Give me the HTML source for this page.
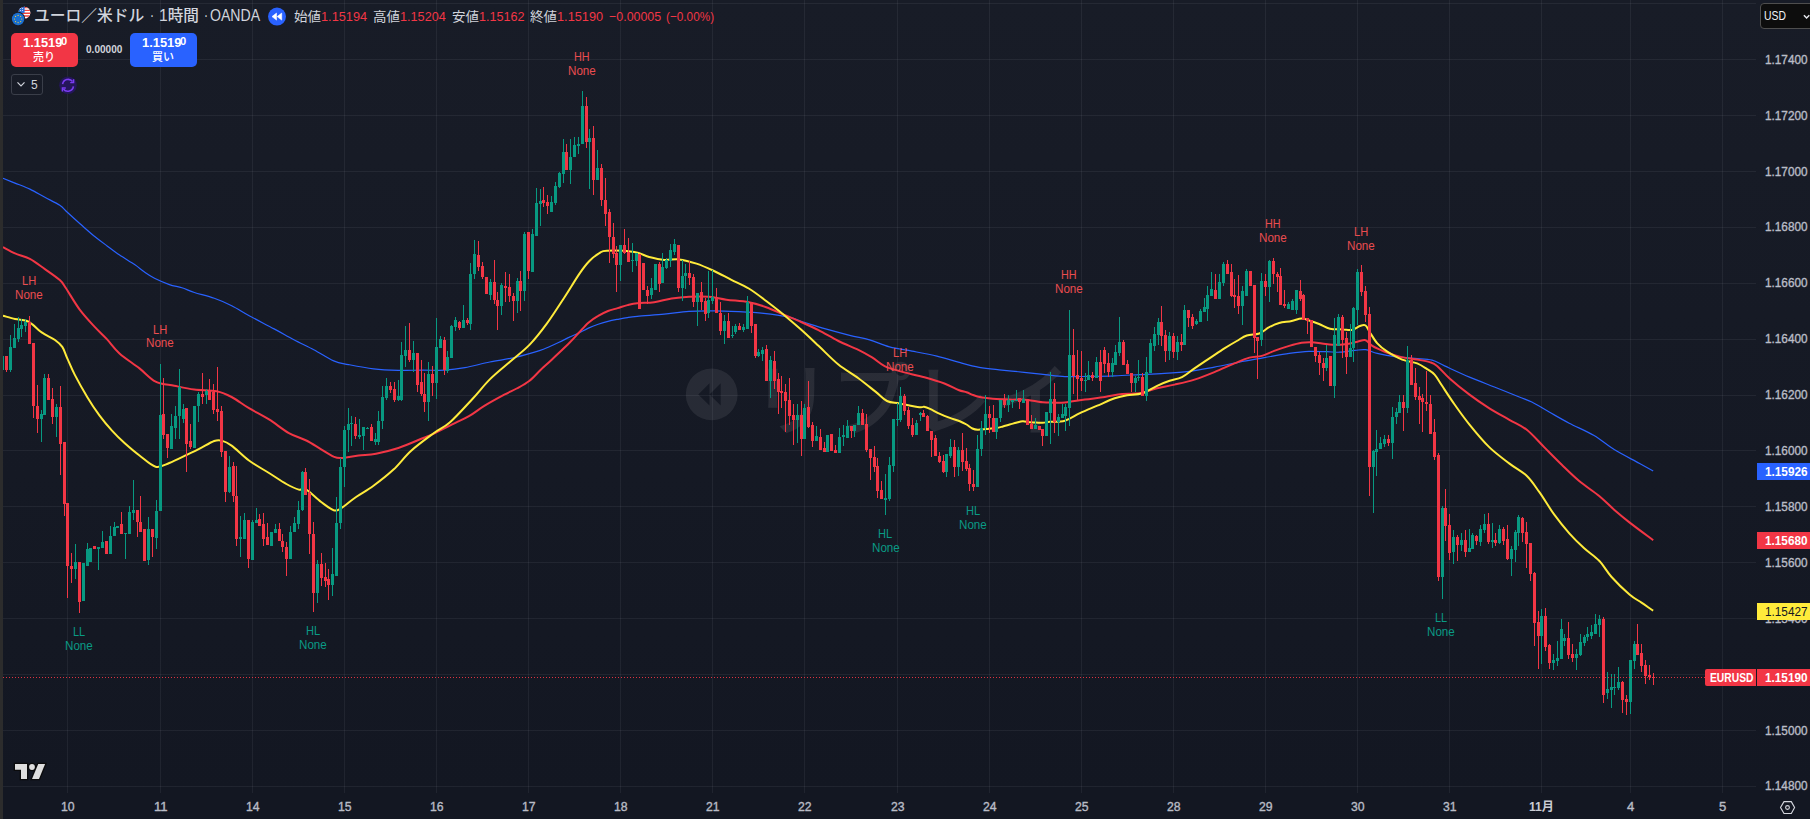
<!DOCTYPE html>
<html lang="ja"><head><meta charset="utf-8"><title>EURUSD</title>
<style>
html,body{margin:0;padding:0;background:#131722;}
body{width:1810px;height:819px;position:relative;overflow:hidden;background:linear-gradient(180deg,#181c27 0px,#131722 793px,#131722 819px);font-family:"Liberation Sans","Noto Sans CJK JP",sans-serif;color:#d1d4dc;}
.t{position:absolute;white-space:nowrap;line-height:1;}
.x{position:absolute;white-space:nowrap;transform-origin:0 50%;display:block}
.tag{position:absolute;left:1757px;width:53px;height:17px;}
.wm{position:absolute;left:751.5px;top:351.7px;font-size:80px;letter-spacing:0px;color:rgba(255,255,255,0.085);font-weight:500;line-height:100px;white-space:nowrap;font-family:"Liberation Sans","Noto Sans CJK JP",sans-serif;}
</style></head><body>

<div class="wm">リプレイ</div>
<svg width="1810" height="819" viewBox="0 0 1810 819" style="position:absolute;left:0;top:0">
<path d="M67.5 0V793M160.5 0V793M252.5 0V793M344.5 0V793M436.5 0V793M528.5 0V793M620.5 0V793M712.5 0V793M804.5 0V793M897.5 0V793M989.5 0V793M1081.5 0V793M1173.5 0V793M1265.5 0V793M1357.5 0V793M1449.5 0V793M1541.5 0V793M1630.5 0V793M1722.5 0V793" stroke="rgba(240,243,250,0.062)" stroke-width="1" fill="none" shape-rendering="crispEdges"/>
<path d="M3 3.5H1756M3 59.5H1756M3 115.5H1756M3 171.5H1756M3 227.5H1756M3 283.5H1756M3 339.5H1756M3 395.5H1756M3 450.5H1756M3 506.5H1756M3 562.5H1756M3 618.5H1756M3 674.5H1756M3 730.5H1756M3 786.5H1756" stroke="rgba(240,243,250,0.062)" stroke-width="1" fill="none" shape-rendering="crispEdges"/>
<path fill-rule="evenodd" fill="rgba(255,255,255,0.08)" d="M685.8 394.4a25.9 25.9 0 1 0 51.8 0a25.9 25.9 0 1 0 -51.8 0Z M709.5 383.2L698.3 394.4L709.5 405.6Z M720.7 383.2L709.5 394.4L720.7 405.6Z"/>
<path d="M3.0 178.2C5.0 179.0 10.5 181.3 15.0 183.1C19.5 184.9 24.9 186.7 29.9 189.1C34.9 191.5 39.9 194.6 44.9 197.3C49.9 200.0 56.1 202.8 59.8 205.3C63.5 207.8 64.0 209.3 67.3 212.3C70.6 215.3 75.1 219.5 79.7 223.5C84.3 227.5 90.1 232.8 94.7 236.5C99.3 240.2 102.9 242.8 107.1 245.9C111.2 249.0 115.0 252.0 119.6 255.1C124.2 258.2 130.4 261.8 134.6 264.6C138.8 267.4 141.2 269.8 144.5 272.1C147.8 274.4 150.3 276.2 154.5 278.3C158.7 280.4 164.8 283.0 169.4 284.6C174.0 286.2 177.7 286.5 181.9 287.8C186.1 289.1 189.0 290.8 194.4 292.5C199.8 294.2 208.1 296.1 214.3 298.3C220.5 300.5 225.9 302.8 231.7 305.7C237.5 308.6 242.1 311.8 249.2 315.7C256.3 319.6 266.7 324.9 274.1 328.9C281.6 332.9 287.3 336.2 293.9 339.7C300.5 343.2 307.2 346.2 313.8 349.7C320.4 353.2 327.9 358.4 333.7 360.9C339.5 363.4 342.0 363.3 348.6 364.6C355.2 365.9 365.2 367.9 373.5 368.9C381.8 369.9 390.1 370.2 398.4 370.4C406.7 370.6 415.5 370.1 423.3 370.1C431.1 370.1 438.1 370.6 445.0 370.2C451.9 369.8 457.4 369.1 464.9 367.7C472.4 366.3 481.5 363.7 489.8 362.0C498.1 360.3 506.4 359.4 514.7 357.5C523.0 355.6 533.7 352.4 539.5 350.6C545.3 348.8 546.0 348.1 549.3 346.7C552.6 345.3 555.8 343.9 559.1 342.3C562.4 340.8 565.6 338.9 568.9 337.4C572.1 335.8 575.4 334.6 578.6 333.0C581.9 331.4 585.1 329.6 588.4 328.1C591.7 326.6 594.9 325.3 598.2 324.2C601.5 323.1 604.8 322.1 608.0 321.3C611.2 320.5 614.5 319.9 617.7 319.3C621.0 318.7 624.2 318.1 627.5 317.6C630.8 317.1 631.2 317.0 637.3 316.4C643.4 315.8 655.5 315.0 664.1 314.2C672.7 313.4 680.7 311.9 689.0 311.4C697.3 310.8 705.7 310.8 714.0 310.9C722.3 310.9 730.5 311.3 738.8 311.7C747.1 312.1 755.4 312.5 763.7 313.4C772.0 314.3 781.7 315.7 788.6 317.2C795.5 318.7 799.0 320.6 805.0 322.5C811.0 324.4 817.2 326.6 824.7 328.7C832.2 330.8 842.2 333.5 849.7 335.4C857.2 337.3 863.0 338.0 869.6 339.9C876.2 341.8 882.4 345.0 889.5 346.9C896.6 348.8 904.1 349.6 912.0 351.1C919.9 352.6 929.0 354.2 936.9 356.1C944.8 358.0 952.2 360.5 959.3 362.4C966.3 364.3 972.6 366.1 979.2 367.3C985.9 368.5 991.7 369.0 999.2 369.8C1006.7 370.6 1016.5 371.5 1024.1 372.3C1031.7 373.1 1038.2 373.9 1045.0 374.6C1051.8 375.3 1057.4 376.3 1064.9 376.6C1072.4 376.9 1081.5 376.4 1089.8 376.3C1098.1 376.2 1106.4 376.1 1114.7 375.8C1123.0 375.5 1131.4 375.0 1139.7 374.6C1148.0 374.2 1156.3 373.9 1164.6 373.3C1172.9 372.8 1181.2 372.3 1189.5 371.3C1197.8 370.3 1206.1 368.6 1214.4 367.1C1222.7 365.6 1231.0 363.7 1239.3 362.1C1247.6 360.5 1256.0 359.1 1264.3 357.6C1272.6 356.2 1281.7 354.4 1289.2 353.4C1296.7 352.4 1302.9 351.7 1309.1 351.4C1315.3 351.1 1321.4 351.6 1326.5 351.7C1331.6 351.8 1335.2 352.4 1339.9 352.2C1344.6 352.0 1350.6 350.8 1354.9 350.4C1359.2 350.0 1361.9 349.2 1365.6 349.7C1369.3 350.2 1372.4 352.2 1377.3 353.4C1382.2 354.5 1388.5 355.8 1394.7 356.6C1400.9 357.4 1408.5 357.8 1414.7 358.4C1420.9 359.0 1427.1 358.9 1432.1 360.1C1437.1 361.4 1438.4 363.1 1444.6 365.9C1450.8 368.7 1461.2 373.6 1469.5 377.1C1477.8 380.6 1486.1 383.7 1494.4 387.0C1502.7 390.3 1513.1 394.5 1519.3 397.0C1525.5 399.5 1526.8 399.5 1531.8 402.0C1536.8 404.5 1543.0 408.5 1549.2 412.0C1555.4 415.5 1561.7 419.3 1569.2 423.2C1576.7 427.1 1586.6 431.2 1594.1 435.6C1601.6 440.0 1606.7 445.0 1614.2 449.6C1621.7 454.2 1632.7 459.7 1639.2 463.3C1645.7 466.9 1650.9 469.8 1653.2 471.1" stroke="#2962ff" stroke-width="1.2" fill="none" stroke-linejoin="round" stroke-linecap="butt"/>
<path d="M3.0 247.2C5.0 248.2 10.5 251.5 15.0 253.4C19.5 255.3 24.9 256.3 29.9 258.9C34.9 261.5 39.9 265.6 44.9 269.1C49.9 272.6 56.3 276.9 59.8 280.1C63.3 283.3 62.7 283.4 66.0 288.3C69.3 293.2 74.9 303.2 79.7 309.6C84.5 316.0 90.1 321.9 94.7 326.9C99.3 331.9 103.0 335.0 107.1 339.4C111.2 343.8 114.1 348.6 119.5 353.4C124.9 358.2 133.5 363.7 139.5 368.4C145.5 373.1 149.8 378.7 155.6 381.6C161.4 384.5 167.9 384.5 174.3 385.8C180.7 387.1 187.1 388.6 194.2 389.5C201.3 390.4 210.5 390.1 216.7 391.3C222.9 392.6 226.2 394.2 231.6 397.0C237.0 399.8 242.8 404.5 249.0 408.2C255.2 411.9 262.4 415.2 269.0 419.4C275.6 423.5 282.7 429.6 288.9 433.1C295.1 436.6 300.9 437.8 306.3 440.5C311.7 443.2 316.6 446.6 321.2 449.3C325.8 452.0 330.4 455.2 333.7 456.7C337.0 458.1 337.0 458.2 341.2 458.0C345.4 457.8 352.8 456.2 358.6 455.5C364.4 454.8 369.4 454.9 376.0 453.7C382.6 452.4 390.5 450.6 398.4 448.0C406.3 445.4 417.3 440.4 423.3 438.0C429.3 435.6 429.3 435.7 434.5 433.3C439.7 430.9 448.6 426.3 454.4 423.4C460.2 420.5 464.4 418.8 469.4 415.9C474.4 413.0 478.5 409.4 484.3 405.9C490.1 402.4 498.9 397.6 504.3 394.7C509.7 391.8 512.6 390.8 516.7 388.5C520.9 386.2 525.2 384.1 529.2 381.0C533.2 377.9 536.7 373.6 540.5 370.0C544.3 366.4 547.2 364.1 552.0 359.5C556.8 354.9 565.1 347.1 569.5 342.7C573.9 338.3 575.5 336.3 578.6 333.0C581.8 329.7 585.1 325.6 588.4 322.7C591.7 319.8 594.9 317.8 598.2 315.9C601.5 313.9 604.8 312.3 608.0 311.0C611.2 309.7 614.5 309.1 617.7 308.1C621.0 307.1 624.2 305.9 627.5 305.1C630.8 304.3 632.8 303.7 637.3 303.2C641.8 302.7 648.5 303.0 654.2 302.2C659.9 301.4 665.8 299.4 671.6 298.5C677.4 297.6 682.8 297.0 689.0 296.7C695.2 296.4 702.8 296.2 709.0 296.7C715.2 297.2 719.8 298.8 726.4 299.7C733.0 300.6 742.2 300.9 748.8 302.2C755.4 303.4 760.4 305.1 766.2 307.2C772.0 309.3 778.3 312.4 783.7 314.7C789.1 317.0 792.8 318.3 798.6 320.9C804.4 323.5 811.9 326.8 818.5 330.2C825.1 333.6 831.8 337.7 838.4 341.0C845.0 344.3 852.8 347.1 858.4 349.8C864.0 352.5 867.7 354.7 872.1 357.4C876.5 360.1 880.0 363.8 884.6 366.1C889.2 368.4 892.9 369.2 899.5 371.1C906.1 373.0 916.9 375.2 924.4 377.3C931.9 379.4 938.7 381.4 944.4 383.5C950.1 385.6 954.8 388.5 958.5 390.0C962.2 391.5 964.1 391.5 966.5 392.3C968.9 393.1 970.9 394.2 973.1 395.0C975.3 395.8 977.5 396.5 979.7 397.0C981.9 397.5 983.6 397.7 986.4 398.0C989.2 398.3 992.4 398.7 996.3 399.0C1000.2 399.3 1005.2 399.5 1009.6 399.6C1014.0 399.7 1019.5 399.5 1022.8 399.6C1026.1 399.7 1027.3 400.0 1029.5 400.3C1031.7 400.6 1033.9 401.0 1036.1 401.3C1038.3 401.6 1040.4 402.1 1042.7 402.3C1045.0 402.5 1046.3 402.6 1050.0 402.6C1053.7 402.6 1059.1 403.0 1064.9 402.5C1070.7 402.0 1078.2 400.4 1084.9 399.5C1091.6 398.6 1098.6 397.9 1104.8 397.0C1111.0 396.1 1116.4 394.6 1122.2 394.0C1128.0 393.4 1133.9 394.2 1139.7 393.3C1145.5 392.4 1151.3 389.8 1157.1 388.3C1162.9 386.9 1168.4 386.1 1174.6 384.6C1180.8 383.2 1187.9 381.7 1194.5 379.6C1201.1 377.5 1207.8 374.8 1214.4 372.1C1221.1 369.4 1228.6 365.8 1234.4 363.4C1240.2 361.0 1244.7 358.9 1249.3 357.6C1253.9 356.4 1257.6 357.0 1261.8 355.9C1266.0 354.8 1269.6 352.6 1274.2 350.9C1278.8 349.2 1284.6 347.3 1289.2 345.9C1293.8 344.5 1297.9 343.3 1301.6 342.7C1305.3 342.1 1308.2 342.1 1311.6 342.2C1315.0 342.3 1318.5 343.0 1322.0 343.4C1325.5 343.8 1328.7 344.6 1332.5 344.7C1336.3 344.8 1340.8 344.7 1344.9 344.2C1349.1 343.7 1354.0 342.4 1357.4 341.7C1360.9 341.0 1363.1 339.5 1365.6 340.2C1368.1 340.9 1369.1 344.0 1372.3 345.9C1375.5 347.8 1380.2 349.9 1384.8 351.7C1389.4 353.5 1394.3 355.3 1399.7 356.6C1405.1 357.9 1412.2 358.7 1417.2 359.6C1422.2 360.5 1426.3 361.1 1429.6 362.1C1432.9 363.2 1433.8 363.2 1437.1 365.9C1440.4 368.6 1444.2 373.6 1449.6 378.4C1455.0 383.2 1462.9 389.6 1469.5 394.6C1476.1 399.6 1482.8 404.1 1489.4 408.3C1496.1 412.5 1503.2 416.2 1509.4 419.8C1515.6 423.4 1521.0 425.2 1526.8 429.8C1532.6 434.4 1538.6 441.6 1544.4 447.4C1550.2 453.2 1556.0 459.2 1561.8 464.8C1567.6 470.4 1573.0 475.8 1579.2 481.0C1585.4 486.2 1593.4 491.2 1599.2 496.0C1605.0 500.8 1609.1 505.3 1614.1 509.7C1619.1 514.0 1622.6 517.0 1629.1 522.1C1635.6 527.2 1649.2 537.2 1653.2 540.2" stroke="#f23645" stroke-width="2" fill="none" stroke-linejoin="round" stroke-linecap="butt"/>
<path d="M3.0 315.7C5.0 316.2 11.1 318.2 15.0 319.0C18.9 319.8 23.3 319.8 26.2 320.7C29.1 321.6 30.1 322.7 32.4 324.4C34.7 326.1 37.7 329.3 39.8 331.0C41.9 332.7 42.4 332.9 44.9 334.4C47.4 335.9 52.1 337.9 55.0 340.0C57.9 342.1 60.2 343.8 62.3 346.9C64.4 350.0 65.3 354.0 67.4 358.6C69.5 363.2 71.4 368.2 74.7 374.6C78.0 381.0 83.1 390.1 87.2 397.0C91.3 403.9 95.5 410.1 99.6 415.7C103.7 421.3 107.8 426.1 112.0 430.6C116.2 435.2 119.9 438.9 124.5 443.0C129.1 447.1 134.3 451.6 139.5 455.5C144.7 459.4 150.6 465.4 155.6 466.7C160.6 467.9 164.1 465.0 169.3 463.0C174.5 461.0 181.8 457.2 186.8 454.8C191.8 452.4 194.6 451.1 199.2 448.8C203.8 446.5 210.5 442.4 214.2 441.0C217.9 439.6 218.7 439.8 221.6 440.6C224.5 441.4 227.0 442.3 231.6 445.6C236.2 448.9 242.8 455.9 249.0 460.5C255.2 465.1 262.8 469.1 269.0 473.0C275.2 476.9 281.4 481.2 286.4 484.0C291.4 486.8 295.5 488.7 298.8 489.6C302.1 490.5 302.6 487.5 306.3 489.6C310.0 491.7 316.6 498.6 321.2 502.0C325.8 505.4 330.4 509.2 333.7 510.2C337.0 511.2 337.5 510.4 341.2 508.2C344.9 506.0 350.7 500.7 356.1 497.0C361.5 493.3 367.3 490.4 373.5 485.8C379.7 481.2 387.3 475.4 393.5 469.6C399.7 463.8 404.3 457.0 410.9 451.0C417.5 445.0 426.8 438.3 433.3 433.5C439.8 428.7 443.5 428.1 450.0 422.3C456.5 416.6 465.8 406.1 472.4 399.0C479.0 391.9 483.6 385.6 489.8 379.4C496.0 373.2 503.0 367.8 509.7 362.0C516.4 356.2 523.5 351.0 529.7 344.6C535.9 338.2 541.2 331.3 547.0 323.4C552.8 315.5 559.1 305.5 564.5 297.2C569.9 288.9 575.4 279.6 579.5 273.6C583.6 267.6 586.1 264.4 589.4 261.0C592.7 257.6 596.5 254.9 599.4 253.2C602.3 251.5 601.1 250.9 606.9 250.7C612.7 250.5 627.2 250.9 634.2 252.0C641.2 253.1 644.2 255.7 649.2 257.0C654.2 258.3 659.1 259.5 664.1 259.9C669.1 260.3 673.6 258.8 679.0 259.4C684.4 260.0 690.7 261.7 696.5 263.6C702.3 265.5 708.2 268.3 714.0 271.0C719.8 273.7 725.6 276.9 731.4 279.8C737.2 282.7 743.0 285.0 748.8 288.5C754.6 292.0 760.4 296.6 766.2 301.0C772.0 305.4 777.9 309.9 783.7 314.7C789.5 319.5 795.2 324.4 801.0 329.6C806.8 334.8 812.3 340.0 818.5 345.8C824.7 351.6 831.8 359.1 838.4 364.5C845.0 369.9 852.2 373.6 858.4 378.2C864.6 382.8 871.0 388.1 875.8 391.9C880.6 395.7 883.0 399.1 887.0 401.0C891.0 402.9 894.1 402.5 899.5 403.5C904.9 404.5 915.3 406.6 919.4 407.2C923.5 407.8 922.2 406.5 924.0 406.8C925.8 407.1 927.4 407.7 930.0 408.9C932.6 410.1 936.6 412.4 939.9 413.9C943.2 415.4 946.6 416.7 949.9 417.9C953.2 419.1 957.0 420.1 959.8 421.2C962.6 422.3 964.4 423.3 966.5 424.5C968.6 425.7 970.5 427.6 972.4 428.5C974.3 429.4 975.4 429.7 977.7 429.8C980.0 429.9 983.3 429.4 986.4 429.1C989.5 428.8 993.5 428.5 996.3 428.1C999.0 427.7 1000.7 427.1 1002.9 426.5C1005.1 425.9 1007.4 425.1 1009.6 424.5C1011.8 423.9 1014.0 423.4 1016.2 422.8C1018.4 422.2 1020.6 421.3 1022.8 421.2C1025.0 421.1 1027.3 422.0 1029.5 422.2C1031.7 422.4 1033.9 422.4 1036.1 422.5C1038.3 422.6 1040.4 422.9 1042.7 422.8C1045.0 422.7 1046.3 422.2 1050.0 421.8C1053.7 421.4 1059.9 422.1 1064.9 420.7C1069.9 419.3 1074.5 415.7 1079.9 413.2C1085.3 410.7 1091.5 408.2 1097.3 405.7C1103.1 403.2 1109.7 400.0 1114.7 398.3C1119.7 396.6 1122.6 396.1 1127.2 395.3C1131.8 394.5 1137.2 394.9 1142.2 393.3C1147.2 391.7 1152.5 387.9 1157.1 385.8C1161.7 383.7 1165.4 382.2 1169.6 380.8C1173.8 379.4 1177.8 379.2 1182.0 377.1C1186.2 375.0 1189.9 371.5 1194.5 368.4C1199.1 365.3 1204.4 361.7 1209.4 358.4C1214.4 355.1 1219.8 351.3 1224.4 348.4C1229.0 345.5 1233.1 343.1 1236.8 341.0C1240.5 338.9 1243.0 336.8 1246.8 335.5C1250.5 334.2 1255.6 334.9 1259.3 333.5C1263.0 332.1 1265.9 328.9 1269.2 327.2C1272.5 325.4 1275.5 324.0 1279.2 323.0C1283.0 322.0 1288.0 321.8 1291.7 321.0C1295.4 320.2 1298.7 318.6 1301.6 318.5C1304.5 318.4 1306.2 319.6 1309.1 320.5C1312.0 321.4 1315.6 322.6 1319.1 324.0C1322.6 325.4 1326.1 327.9 1330.0 328.8C1333.9 329.7 1338.7 329.2 1342.4 329.4C1346.1 329.5 1349.5 330.3 1352.4 329.7C1355.3 329.1 1357.7 326.7 1359.9 326.0C1362.1 325.3 1363.9 324.5 1365.6 325.5C1367.2 326.5 1367.8 329.2 1369.8 332.2C1371.8 335.2 1374.4 340.1 1377.3 343.4C1380.2 346.6 1383.1 349.0 1387.3 351.7C1391.5 354.4 1397.2 357.7 1402.2 359.6C1407.2 361.6 1413.1 361.8 1417.2 363.4C1421.3 365.0 1424.2 367.2 1427.1 369.1C1430.0 371.0 1432.1 371.8 1434.6 374.6C1437.1 377.4 1438.8 380.8 1442.1 385.8C1445.4 390.8 1450.0 398.0 1454.6 404.5C1459.2 411.0 1463.7 417.5 1469.5 424.6C1475.3 431.8 1482.8 440.9 1489.5 447.4C1496.2 453.9 1503.3 458.8 1509.5 463.6C1515.7 468.4 1521.9 471.2 1526.9 476.0C1531.9 480.8 1534.8 485.8 1539.4 492.2C1544.0 498.6 1549.3 507.9 1554.3 514.7C1559.3 521.6 1564.3 527.7 1569.3 533.3C1574.3 538.9 1579.2 543.7 1584.2 548.3C1589.2 552.9 1594.6 556.0 1599.2 560.8C1603.8 565.6 1606.5 571.4 1611.6 577.0C1616.6 582.6 1624.5 590.2 1629.5 594.5C1634.5 598.8 1637.5 599.9 1641.5 602.6C1645.5 605.3 1651.2 609.4 1653.2 610.7" stroke="#ffeb3b" stroke-width="2" fill="none" stroke-linejoin="round" stroke-linecap="butt"/>
<g shape-rendering="crispEdges"><path d="M2.5 356V370M10.5 335V372M14.5 324V348M18.5 317V342M21.5 319V337M25.5 319V332M41.5 410V442M44.5 374V415M56.5 404V437M75.5 544V579M83.5 563V601M87.5 543V566M90.5 548V562M98.5 547V570M102.5 531V548M110.5 526V554M114.5 522V536M117.5 526V528M125.5 533V559M129.5 506V534M133.5 480V520M148.5 517V565M156.5 500V549M160.5 364V511M171.5 414V449M175.5 406V439M179.5 369V439M183.5 404V423M194.5 406V448M198.5 392V422M206.5 389V404M229.5 456V493M240.5 516V557M244.5 513V539M252.5 520V560M256.5 508V523M271.5 532V546M275.5 524V533M290.5 526V559M294.5 517V532M298.5 501V529M302.5 471V511M317.5 560V603M332.5 548V596M336.5 497V576M340.5 458V529M344.5 426V487M348.5 408V452M351.5 416V446M359.5 419V439M363.5 427V450M367.5 427V429M375.5 433V445M378.5 411V445M382.5 386V429M386.5 378V400M398.5 380V401M401.5 342V401M405.5 326V367M413.5 341V372M428.5 362V421M436.5 318V399M440.5 336V348M447.5 351V373M451.5 325V358M455.5 317V331M463.5 305V328M470.5 263V330M474.5 240V279M490.5 279V300M501.5 283V315M517.5 278V313M524.5 232V301M532.5 229V272M536.5 188V236M540.5 189V226M551.5 196V212M555.5 182V205M559.5 172V188M563.5 139V183M570.5 139V184M574.5 137V157M578.5 137V154M582.5 91V144M589.5 129V189M597.5 150V180M620.5 245V281M632.5 243V272M636.5 253V266M651.5 278V299M655.5 264V290M662.5 253V283M666.5 258V269M670.5 244V267M674.5 239V255M682.5 260V301M685.5 264V289M697.5 293V326M708.5 271V318M712.5 270V304M724.5 315V344M732.5 326V338M735.5 324V334M743.5 324V332M747.5 296V329M758.5 349V357M762.5 347V361M770.5 356V398M797.5 404V443M804.5 404V439M816.5 426V441M827.5 435V452M839.5 428V453M843.5 425V446M847.5 420V438M854.5 425V437M858.5 406V425M885.5 474V515M889.5 457V501M893.5 419V472M897.5 403V426M900.5 387V422M916.5 420V435M920.5 412V421M946.5 454V477M950.5 439V458M958.5 447V476M977.5 435V487M981.5 421V456M985.5 395V435M996.5 418V439M1000.5 400V422M1008.5 395V412M1012.5 400V408M1016.5 390V401M1023.5 390V403M1035.5 418V429M1046.5 412V436M1050.5 372V444M1058.5 414V436M1062.5 404V418M1065.5 404V431M1069.5 310V426M1085.5 373V392M1088.5 361V380M1096.5 357V378M1112.5 358V377M1115.5 345V365M1119.5 317V356M1135.5 376V392M1138.5 360V381M1146.5 357V401M1150.5 339V373M1154.5 327V351M1158.5 318V345M1169.5 332V360M1177.5 336V360M1184.5 305V345M1196.5 319V325M1200.5 309V322M1204.5 298V312M1207.5 286V321M1211.5 272V296M1219.5 274V299M1223.5 262V286M1242.5 286V325M1246.5 269V296M1261.5 273V346M1269.5 260V302M1288.5 302V309M1292.5 299V310M1296.5 290V314M1326.5 345V371M1334.5 318V398M1338.5 314V346M1350.5 324V357M1353.5 307V362M1357.5 269V325M1373.5 450V513M1376.5 430V476M1380.5 437V449M1384.5 435V447M1392.5 407V459M1396.5 408V424M1399.5 395V413M1407.5 346V413M1442.5 506V599M1453.5 530V564M1461.5 533V551M1469.5 529V552M1472.5 533V549M1480.5 525V546M1484.5 514V533M1492.5 523V548M1499.5 525V544M1511.5 546V576M1515.5 530V562M1518.5 515V546M1541.5 609V664M1553.5 654V670M1557.5 641V666M1561.5 619V659M1564.5 634V646M1576.5 649V670M1580.5 634V656M1584.5 635V646M1587.5 627V641M1591.5 625V639M1595.5 614V634M1599.5 615V637M1607.5 672V699M1611.5 674V708M1614.5 674V695M1618.5 667V690M1630.5 660V714M1634.5 641V669" stroke="#089981" stroke-width="1" fill="none"/><path d="M6.5 356V372M29.5 316V344M33.5 343V418M37.5 385V433M48.5 374V400M52.5 388V424M60.5 386V475M64.5 442V516M67.5 503V598M71.5 553V583M79.5 562V613M94.5 546V549M106.5 541V554M121.5 512V534M137.5 510V537M140.5 496V532M144.5 529V561M152.5 529V557M163.5 378V439M167.5 434V458M186.5 408V472M190.5 424V449M202.5 373V404M209.5 379V400M213.5 384V414M217.5 367V421M221.5 406V457M225.5 451V502M233.5 462V502M236.5 466V546M248.5 520V568M259.5 514V526M263.5 513V546M267.5 523V545M279.5 523V541M282.5 534V552M286.5 542V576M305.5 468V495M309.5 479V554M313.5 522V612M321.5 553V586M325.5 563V587M328.5 569V600M355.5 417V439M371.5 424V441M390.5 382V393M394.5 382V402M409.5 323V362M417.5 353V392M421.5 360V396M424.5 373V412M432.5 366V396M444.5 337V375M459.5 321V330M467.5 318V325M478.5 241V271M482.5 262V279M486.5 277V294M494.5 260V304M497.5 292V330M505.5 272V302M509.5 274V302M513.5 293V321M520.5 271V311M528.5 232V279M543.5 187V207M547.5 195V214M566.5 144V170M586.5 97V148M593.5 126V195M601.5 164V206M605.5 178V226M609.5 209V263M613.5 223V258M616.5 246V292M624.5 229V254M628.5 238V262M639.5 254V309M643.5 263V290M647.5 286V304M659.5 262V292M678.5 245V292M689.5 261V285M693.5 274V307M701.5 282V310M705.5 298V321M716.5 288V313M720.5 302V335M728.5 313V338M739.5 323V330M751.5 302V333M755.5 324V358M766.5 345V381M774.5 351V389M778.5 373V414M781.5 376V408M785.5 384V432M789.5 378V425M793.5 404V445M801.5 401V456M808.5 381V428M812.5 422V447M820.5 429V450M824.5 442V452M831.5 434V451M835.5 445V453M851.5 426V438M862.5 409V425M866.5 414V452M870.5 449V480M874.5 446V472M877.5 458V498M881.5 481V499M904.5 394V415M908.5 407V429M912.5 418V437M923.5 410V417M927.5 415V431M931.5 431V457M935.5 435V456M939.5 452V463M943.5 455V473M954.5 440V477M962.5 433V471M966.5 448V471M969.5 464V491M973.5 470V491M989.5 406V433M993.5 405V432M1004.5 394V408M1019.5 398V409M1027.5 399V425M1031.5 415V429M1039.5 426V430M1042.5 429V446M1054.5 383V433M1073.5 329V394M1077.5 350V400M1081.5 351V391M1092.5 372V381M1100.5 350V392M1104.5 347V373M1108.5 353V377M1123.5 340V365M1127.5 360V374M1131.5 373V392M1142.5 373V396M1161.5 306V346M1165.5 330V362M1173.5 333V358M1181.5 334V351M1188.5 310V327M1192.5 314V329M1215.5 274V299M1227.5 260V274M1231.5 264V297M1234.5 279V308M1238.5 275V314M1250.5 271V286M1254.5 285V353M1257.5 337V379M1265.5 274V296M1273.5 258V284M1277.5 272V292M1280.5 268V305M1284.5 290V308M1300.5 280V301M1303.5 294V320M1307.5 318V334M1311.5 320V347M1315.5 347V362M1319.5 352V375M1323.5 358V381M1330.5 356V386M1342.5 315V358M1346.5 332V374M1361.5 265V296M1365.5 286V322M1369.5 307V496M1388.5 435V446M1403.5 395V431M1411.5 355V385M1415.5 368V400M1419.5 387V424M1422.5 394V432M1426.5 371V411M1430.5 395V434M1434.5 419V460M1438.5 453V581M1445.5 489V541M1449.5 514V560M1457.5 535V561M1465.5 530V557M1476.5 535V545M1488.5 513V544M1495.5 533V546M1503.5 527V545M1507.5 525V560M1522.5 517V542M1526.5 522V568M1530.5 543V581M1534.5 572V646M1538.5 611V669M1545.5 608V651M1549.5 644V669M1568.5 622V659M1572.5 644V662M1603.5 617V703M1622.5 681V713M1626.5 695V715M1637.5 624V655M1641.5 644V672M1645.5 660V684M1649.5 665V680M1653.5 673V685" stroke="#f23645" stroke-width="1" fill="none"/><path d="M1 356h3v14h-3zM9 347h3v23h-3zM13 338h3v10h-3zM17 328h3v11h-3zM20 325h3v4h-3zM24 322h3v4h-3zM40 414h3v5h-3zM43 378h3v37h-3zM55 407h3v10h-3zM74 562h3v7h-3zM82 563h3v38h-3zM86 549h3v17h-3zM89 548h3v14h-3zM97 547h3v2h-3zM101 542h3v6h-3zM109 536h3v18h-3zM113 527h3v9h-3zM116 526h3v2h-3zM124 533h3v1h-3zM128 512h3v22h-3zM132 510h3v3h-3zM147 529h3v31h-3zM155 511h3v27h-3zM159 415h3v96h-3zM170 426h3v23h-3zM174 416h3v12h-3zM178 387h3v29h-3zM182 409h3v10h-3zM193 406h3v42h-3zM197 394h3v12h-3zM205 391h3v4h-3zM228 467h3v25h-3zM239 537h3v2h-3zM243 520h3v19h-3zM251 522h3v38h-3zM255 520h3v3h-3zM270 532h3v14h-3zM274 529h3v4h-3zM289 532h3v27h-3zM293 523h3v9h-3zM297 510h3v14h-3zM301 472h3v38h-3zM316 564h3v29h-3zM331 574h3v11h-3zM335 523h3v53h-3zM339 467h3v56h-3zM343 430h3v37h-3zM347 424h3v6h-3zM350 423h3v1h-3zM358 435h3v2h-3zM362 427h3v9h-3zM366 428h3v1h-3zM374 439h3v3h-3zM377 421h3v21h-3zM381 397h3v24h-3zM385 386h3v12h-3zM397 396h3v4h-3zM400 355h3v45h-3zM404 350h3v6h-3zM412 353h3v7h-3zM427 374h3v28h-3zM435 347h3v36h-3zM439 339h3v9h-3zM446 357h3v14h-3zM450 326h3v32h-3zM454 320h3v7h-3zM462 320h3v8h-3zM469 274h3v50h-3zM473 254h3v20h-3zM489 282h3v13h-3zM500 285h3v21h-3zM516 281h3v20h-3zM523 234h3v57h-3zM531 234h3v38h-3zM535 203h3v33h-3zM539 201h3v3h-3zM550 202h3v10h-3zM554 186h3v17h-3zM558 173h3v14h-3zM562 152h3v22h-3zM569 157h3v13h-3zM573 145h3v12h-3zM577 144h3v2h-3zM581 106h3v38h-3zM588 138h3v4h-3zM596 168h3v12h-3zM619 245h3v20h-3zM631 260h3v1h-3zM635 253h3v8h-3zM650 288h3v7h-3zM654 264h3v26h-3zM661 267h3v16h-3zM665 260h3v8h-3zM669 250h3v11h-3zM673 244h3v8h-3zM681 276h3v12h-3zM684 273h3v3h-3zM696 293h3v9h-3zM707 300h3v13h-3zM711 297h3v4h-3zM723 321h3v10h-3zM731 335h3v1h-3zM734 326h3v6h-3zM742 327h3v3h-3zM746 302h3v27h-3zM757 352h3v4h-3zM761 350h3v4h-3zM769 360h3v21h-3zM796 415h3v5h-3zM803 408h3v31h-3zM815 436h3v5h-3zM826 435h3v17h-3zM838 437h3v16h-3zM842 435h3v2h-3zM846 426h3v12h-3zM853 425h3v6h-3zM857 413h3v12h-3zM884 498h3v2h-3zM888 465h3v34h-3zM892 419h3v47h-3zM896 419h3v1h-3zM899 396h3v24h-3zM915 423h3v12h-3zM919 413h3v2h-3zM945 454h3v18h-3zM949 447h3v9h-3zM957 450h3v17h-3zM976 449h3v38h-3zM980 428h3v21h-3zM984 414h3v14h-3zM995 418h3v14h-3zM999 400h3v18h-3zM1007 400h3v5h-3zM1011 400h3v2h-3zM1015 400h3v1h-3zM1022 399h3v4h-3zM1034 425h3v4h-3zM1045 412h3v24h-3zM1049 399h3v14h-3zM1057 417h3v5h-3zM1061 414h3v4h-3zM1064 407h3v9h-3zM1068 355h3v53h-3zM1084 380h3v1h-3zM1087 375h3v5h-3zM1095 362h3v16h-3zM1111 363h3v9h-3zM1114 352h3v13h-3zM1118 342h3v11h-3zM1134 378h3v5h-3zM1137 377h3v1h-3zM1145 372h3v24h-3zM1149 343h3v30h-3zM1153 334h3v12h-3zM1157 322h3v13h-3zM1168 336h3v15h-3zM1176 342h3v10h-3zM1183 310h3v35h-3zM1195 321h3v3h-3zM1199 311h3v11h-3zM1203 307h3v5h-3zM1206 295h3v14h-3zM1210 289h3v7h-3zM1218 282h3v17h-3zM1222 264h3v19h-3zM1241 291h3v15h-3zM1245 271h3v25h-3zM1260 281h3v59h-3zM1268 261h3v26h-3zM1287 304h3v5h-3zM1291 301h3v9h-3zM1295 290h3v20h-3zM1325 358h3v10h-3zM1333 335h3v51h-3zM1337 317h3v29h-3zM1349 348h3v9h-3zM1352 308h3v40h-3zM1356 272h3v38h-3zM1372 451h3v16h-3zM1375 449h3v3h-3zM1379 443h3v6h-3zM1383 439h3v5h-3zM1391 417h3v26h-3zM1395 412h3v5h-3zM1398 402h3v11h-3zM1406 360h3v48h-3zM1441 508h3v69h-3zM1452 537h3v15h-3zM1460 540h3v5h-3zM1468 548h3v4h-3zM1471 535h3v14h-3zM1479 529h3v13h-3zM1483 524h3v6h-3zM1491 540h3v2h-3zM1498 529h3v14h-3zM1510 549h3v10h-3zM1514 532h3v18h-3zM1517 517h3v16h-3zM1540 616h3v20h-3zM1552 660h3v3h-3zM1556 658h3v3h-3zM1560 629h3v30h-3zM1563 638h3v3h-3zM1575 654h3v4h-3zM1579 642h3v13h-3zM1583 637h3v6h-3zM1586 634h3v3h-3zM1590 632h3v4h-3zM1594 624h3v10h-3zM1598 619h3v6h-3zM1606 689h3v4h-3zM1610 687h3v3h-3zM1613 687h3v1h-3zM1617 682h3v6h-3zM1629 660h3v42h-3zM1633 644h3v17h-3z" fill="#089981"/><path d="M5 356h3v14h-3zM28 322h3v22h-3zM32 343h3v63h-3zM36 406h3v13h-3zM47 378h3v22h-3zM51 399h3v18h-3zM59 407h3v37h-3zM63 442h3v62h-3zM66 503h3v63h-3zM70 566h3v3h-3zM78 562h3v40h-3zM93 546h3v3h-3zM105 541h3v13h-3zM120 524h3v10h-3zM136 510h3v12h-3zM139 522h3v10h-3zM143 529h3v32h-3zM151 529h3v8h-3zM162 414h3v21h-3zM166 434h3v14h-3zM185 408h3v36h-3zM189 441h3v6h-3zM201 394h3v3h-3zM208 391h3v9h-3zM212 392h3v18h-3zM216 409h3v3h-3zM220 411h3v41h-3zM224 451h3v41h-3zM232 466h3v30h-3zM235 496h3v43h-3zM247 520h3v39h-3zM258 519h3v7h-3zM262 524h3v15h-3zM266 537h3v8h-3zM278 529h3v12h-3zM281 541h3v6h-3zM285 547h3v12h-3zM304 472h3v23h-3zM308 493h3v41h-3zM312 534h3v59h-3zM320 564h3v14h-3zM324 577h3v4h-3zM327 579h3v6h-3zM354 424h3v12h-3zM370 427h3v14h-3zM389 386h3v4h-3zM393 389h3v11h-3zM408 350h3v10h-3zM416 353h3v32h-3zM420 382h3v12h-3zM423 394h3v8h-3zM431 374h3v9h-3zM443 340h3v30h-3zM458 322h3v6h-3zM466 320h3v3h-3zM477 255h3v12h-3zM481 266h3v11h-3zM485 277h3v17h-3zM493 282h3v18h-3zM496 300h3v6h-3zM504 286h3v2h-3zM508 287h3v9h-3zM512 296h3v5h-3zM519 281h3v10h-3zM527 232h3v39h-3zM542 200h3v3h-3zM546 202h3v4h-3zM565 152h3v18h-3zM585 106h3v36h-3zM592 138h3v42h-3zM600 168h3v32h-3zM604 200h3v14h-3zM608 212h3v25h-3zM612 237h3v17h-3zM615 253h3v12h-3zM623 245h3v8h-3zM627 252h3v10h-3zM638 254h3v55h-3zM642 263h3v27h-3zM646 290h3v6h-3zM658 264h3v20h-3zM677 245h3v43h-3zM688 273h3v5h-3zM692 277h3v25h-3zM700 292h3v10h-3zM704 301h3v13h-3zM715 297h3v16h-3zM719 313h3v18h-3zM727 321h3v17h-3zM738 326h3v4h-3zM750 302h3v24h-3zM754 324h3v32h-3zM765 349h3v32h-3zM773 361h3v20h-3zM777 379h3v13h-3zM780 391h3v2h-3zM784 392h3v9h-3zM788 400h3v16h-3zM792 415h3v5h-3zM800 415h3v24h-3zM807 407h3v20h-3zM811 425h3v16h-3zM819 437h3v13h-3zM823 448h3v4h-3zM830 434h3v17h-3zM834 450h3v3h-3zM850 426h3v5h-3zM861 413h3v12h-3zM865 424h3v26h-3zM869 449h3v9h-3zM873 457h3v10h-3zM876 466h3v25h-3zM880 490h3v9h-3zM903 396h3v15h-3zM907 410h3v16h-3zM911 425h3v10h-3zM922 413h3v4h-3zM926 416h3v15h-3zM930 431h3v9h-3zM934 438h3v18h-3zM938 456h3v6h-3zM942 461h3v11h-3zM953 447h3v20h-3zM961 450h3v12h-3zM965 461h3v8h-3zM968 468h3v16h-3zM972 484h3v3h-3zM988 414h3v4h-3zM992 418h3v14h-3zM1003 400h3v5h-3zM1018 398h3v4h-3zM1026 399h3v26h-3zM1030 424h3v5h-3zM1038 426h3v4h-3zM1041 429h3v7h-3zM1053 399h3v23h-3zM1072 355h3v21h-3zM1076 375h3v4h-3zM1080 378h3v3h-3zM1091 375h3v3h-3zM1099 362h3v19h-3zM1103 350h3v14h-3zM1107 363h3v9h-3zM1122 342h3v23h-3zM1126 364h3v10h-3zM1130 373h3v10h-3zM1141 377h3v19h-3zM1160 322h3v14h-3zM1164 335h3v16h-3zM1172 336h3v16h-3zM1180 342h3v3h-3zM1187 310h3v8h-3zM1191 317h3v9h-3zM1214 290h3v9h-3zM1226 264h3v10h-3zM1230 272h3v24h-3zM1233 295h3v2h-3zM1237 296h3v10h-3zM1249 271h3v15h-3zM1253 285h3v53h-3zM1256 337h3v4h-3zM1264 281h3v6h-3zM1272 261h3v13h-3zM1276 274h3v3h-3zM1279 276h3v29h-3zM1283 304h3v2h-3zM1299 291h3v8h-3zM1302 295h3v25h-3zM1306 318h3v3h-3zM1310 320h3v27h-3zM1314 347h3v9h-3zM1318 355h3v8h-3zM1322 363h3v5h-3zM1329 356h3v30h-3zM1341 317h3v23h-3zM1345 338h3v19h-3zM1360 272h3v20h-3zM1364 291h3v24h-3zM1368 314h3v153h-3zM1387 439h3v4h-3zM1402 402h3v6h-3zM1410 360h3v25h-3zM1414 383h3v14h-3zM1418 396h3v4h-3zM1421 398h3v4h-3zM1425 402h3v2h-3zM1429 404h3v30h-3zM1433 432h3v25h-3zM1437 455h3v122h-3zM1444 508h3v18h-3zM1448 525h3v28h-3zM1456 537h3v8h-3zM1464 540h3v12h-3zM1475 536h3v5h-3zM1487 524h3v18h-3zM1494 540h3v3h-3zM1502 529h3v12h-3zM1506 539h3v20h-3zM1521 518h3v15h-3zM1525 532h3v12h-3zM1529 543h3v31h-3zM1533 573h3v50h-3zM1537 622h3v14h-3zM1544 616h3v31h-3zM1548 645h3v18h-3zM1567 638h3v17h-3zM1571 654h3v4h-3zM1602 619h3v76h-3zM1621 682h3v18h-3zM1625 699h3v3h-3zM1636 644h3v11h-3zM1640 653h3v13h-3zM1644 665h3v11h-3zM1648 675h3v2h-3zM1652 677h3v1h-3z" fill="#f23645"/></g>
<path d="M3 677.5H1705" stroke="#f23645" stroke-width="1" stroke-dasharray="1 2" fill="none" shape-rendering="crispEdges" opacity="0.9"/>
</svg>
<div style="position:absolute;left:0;top:0;width:3px;height:819px;background:#2c2c2c"></div>
<div class="tag" style="top:463px;background:#2962ff"></div>
<div class="tag" style="top:532px;background:#f23645"></div>
<div style="position:absolute;left:1760px;top:3px;width:60px;height:24px;border:1px solid #4e4e4e;border-radius:4px;background:#0d0d0d"></div>
<svg style="position:absolute;left:1800px;top:10px" width="10" height="12" viewBox="1800 10 10 12"><path d="M1803.9 15.3L1806.6 18L1809.3 15.3" stroke="#e6e8ee" stroke-width="1.5" fill="none"/></svg>
<svg style="position:absolute;left:1778px;top:799px" width="20" height="18" viewBox="1778 799 20 18"><path d="M1784 801.6H1791.3L1794.6 807.5L1791.3 813.5H1784L1780.5 807.5Z" stroke="#d4d6dd" stroke-width="1.15" fill="none" stroke-linejoin="round"/><circle cx="1787.5" cy="807.5" r="1.9" stroke="#d4d6dd" stroke-width="1.1" fill="none"/></svg>
<svg style="position:absolute;left:10px;top:760px" width="40" height="24" viewBox="10 760 40 24"><g fill="#dedede" stroke="#0b0b0c" stroke-width="2.6" stroke-linejoin="miter" paint-order="stroke"><path d="M15 764H27V779H21V769.7H15Z"/><circle cx="32" cy="767" r="2.9"/><path d="M38.2 764H45.1L39 779H32Z"/></g></svg>
<svg style="position:absolute;left:10px;top:5px" width="24" height="24" viewBox="0 0 24 24">
<defs><clipPath id="cu"><circle cx="14.4" cy="7.8" r="6"/></clipPath></defs>
<g clip-path="url(#cu)"><rect x="8" y="1" width="13" height="14" fill="#ffffff"/>
<path d="M8 2.6h13M8 5.4h13M8 8.2h13M8 11h13M8 13.6h13" stroke="#f0443e" stroke-width="1.4"/>
<rect x="8" y="1" width="6.6" height="7" fill="#2a6fdc"/>
<g fill="#fff"><circle cx="10.6" cy="3.6" r="0.5"/><circle cx="12.6" cy="3.6" r="0.5"/><circle cx="10.6" cy="5.6" r="0.5"/><circle cx="12.6" cy="5.6" r="0.5"/></g></g>
<circle cx="8.1" cy="14" r="7.2" fill="#181c27"/>
<circle cx="8.1" cy="14" r="6.2" fill="#1a6fd0"/>
<g fill="#f5d23a"><circle cx="8.1" cy="10.4" r="0.6"/><circle cx="8.1" cy="17.6" r="0.6"/><circle cx="4.5" cy="14" r="0.6"/><circle cx="11.7" cy="14" r="0.6"/><circle cx="5.55" cy="11.45" r="0.6"/><circle cx="10.65" cy="11.45" r="0.6"/><circle cx="5.55" cy="16.55" r="0.6"/><circle cx="10.65" cy="16.55" r="0.6"/></g>
</svg>
<svg style="position:absolute;left:267px;top:6.5px" width="20" height="20" viewBox="0 0 20 20"><circle cx="10" cy="9.6" r="9" fill="#2962ff"/><path d="M9.5 6.1L5 9.6L9.5 13.1Z M14.7 6.1L10.2 9.6L14.7 13.1Z" fill="#fff" stroke="#fff" stroke-width="0.6" stroke-linejoin="round"/></svg>
<div style="position:absolute;left:11px;top:33px;width:67px;height:34px;border-radius:5px;background:#f23645"></div>
<div style="position:absolute;left:130px;top:33px;width:67px;height:34px;border-radius:5px;background:#2962ff"></div>
<div style="position:absolute;left:11px;top:73.7px;width:30px;height:19px;border:1px solid #3a3e49;border-radius:3px"></div>
<svg style="position:absolute;left:16px;top:80px" width="10" height="8" viewBox="0 0 10 8"><path d="M1.5 2.3L5 5.8L8.5 2.3" stroke="#d1d4dc" stroke-width="1.2" fill="none"/></svg>
<svg style="position:absolute;left:58px;top:75px" width="20" height="20" viewBox="0 0 20 20"><circle cx="10" cy="10.3" r="8.8" fill="#24165a"/><path d="M4.6 9.2A5.6 5.6 0 0 1 14.6 6.6M15.4 11.4A5.6 5.6 0 0 1 5.4 14" stroke="#7a3cf0" stroke-width="1.6" fill="none"/><path d="M15.6 4.2v3.4h-3.4M4.4 16.4v-3.4h3.4" stroke="#7a3cf0" stroke-width="1.4" fill="none"/></svg>
<div class="x" style="left:33.5px;top:6.3px;font-size:16px;line-height:20px;color:#d1d4dc;transform:scaleX(0.9847);font-weight:500">ユーロ／米ドル</div>
<div class="x" style="left:149.5px;top:6.3px;font-size:16px;line-height:20px;color:#d1d4dc;transform:scaleX(0.7507);">·</div>
<div class="x" style="left:158.6px;top:6.3px;font-size:16px;line-height:20px;color:#d1d4dc;transform:scaleX(0.9754);font-weight:500">1時間</div>
<div class="x" style="left:203.5px;top:6.3px;font-size:16px;line-height:20px;color:#d1d4dc;transform:scaleX(0.7507);">·</div>
<div class="x" style="left:210.3px;top:6.3px;font-size:16px;line-height:20px;color:#d1d4dc;transform:scaleX(0.8804);">OANDA</div>
<div class="x" style="left:293.5px;top:7.8px;font-size:13px;line-height:17px;color:#d1d4dc;transform:scaleX(1.0378);">始値</div>
<div class="x" style="left:321.1px;top:7.8px;font-size:13px;line-height:17px;color:#f23645;transform:scaleX(0.9809);">1.15194</div>
<div class="x" style="left:373.0px;top:7.8px;font-size:13px;line-height:17px;color:#d1d4dc;transform:scaleX(1.0378);">高値</div>
<div class="x" style="left:400.1px;top:7.8px;font-size:13px;line-height:17px;color:#f23645;transform:scaleX(0.9745);">1.15204</div>
<div class="x" style="left:451.7px;top:7.8px;font-size:13px;line-height:17px;color:#d1d4dc;transform:scaleX(1.0378);">安値</div>
<div class="x" style="left:478.9px;top:7.8px;font-size:13px;line-height:17px;color:#f23645;transform:scaleX(0.9702);">1.15162</div>
<div class="x" style="left:530.3px;top:7.8px;font-size:13px;line-height:17px;color:#d1d4dc;transform:scaleX(1.0378);">終値</div>
<div class="x" style="left:557.1px;top:7.8px;font-size:13px;line-height:17px;color:#f23645;transform:scaleX(0.9809);">1.15190</div>
<div class="x" style="left:608.8px;top:7.8px;font-size:13px;line-height:17px;color:#f23645;transform:scaleX(0.9562);">−0.00005</div>
<div class="x" style="left:666.4px;top:7.8px;font-size:13px;line-height:17px;color:#f23645;transform:scaleX(0.9054);">(−0.00%)</div>
<div class="x" style="left:22.1px;top:273.0px;font-size:12px;line-height:16px;color:#ea4d50;transform:scaleX(0.9255);">LH</div>
<div class="x" style="left:15.3px;top:286.9px;font-size:12px;line-height:16px;color:#ea4d50;transform:scaleX(0.9691);">None</div>
<div class="x" style="left:152.9px;top:321.5px;font-size:12px;line-height:16px;color:#ea4d50;transform:scaleX(0.9255);">LH</div>
<div class="x" style="left:146.1px;top:335.4px;font-size:12px;line-height:16px;color:#ea4d50;transform:scaleX(0.9691);">None</div>
<div class="x" style="left:574.2px;top:49.0px;font-size:12px;line-height:16px;color:#ea4d50;transform:scaleX(0.8995);">HH</div>
<div class="x" style="left:568.1px;top:62.9px;font-size:12px;line-height:16px;color:#ea4d50;transform:scaleX(0.9691);">None</div>
<div class="x" style="left:893.2px;top:345.1px;font-size:12px;line-height:16px;color:#ea4d50;transform:scaleX(0.9255);">LH</div>
<div class="x" style="left:886.4px;top:359.0px;font-size:12px;line-height:16px;color:#ea4d50;transform:scaleX(0.9691);">None</div>
<div class="x" style="left:1060.9px;top:267.0px;font-size:12px;line-height:16px;color:#ea4d50;transform:scaleX(0.8995);">HH</div>
<div class="x" style="left:1054.8px;top:280.9px;font-size:12px;line-height:16px;color:#ea4d50;transform:scaleX(0.9691);">None</div>
<div class="x" style="left:1265.1px;top:216.2px;font-size:12px;line-height:16px;color:#ea4d50;transform:scaleX(0.8995);">HH</div>
<div class="x" style="left:1259.0px;top:230.1px;font-size:12px;line-height:16px;color:#ea4d50;transform:scaleX(0.9691);">None</div>
<div class="x" style="left:1354.0px;top:224.0px;font-size:12px;line-height:16px;color:#ea4d50;transform:scaleX(0.9255);">LH</div>
<div class="x" style="left:1347.2px;top:237.9px;font-size:12px;line-height:16px;color:#ea4d50;transform:scaleX(0.9691);">None</div>
<div class="x" style="left:73.2px;top:623.9px;font-size:12px;line-height:16px;color:#0a9a85;transform:scaleX(0.9132);">LL</div>
<div class="x" style="left:65.3px;top:637.8px;font-size:12px;line-height:16px;color:#0a9a85;transform:scaleX(0.9691);">None</div>
<div class="x" style="left:305.9px;top:622.8px;font-size:12px;line-height:16px;color:#0a9a85;transform:scaleX(0.9255);">HL</div>
<div class="x" style="left:299.1px;top:636.7px;font-size:12px;line-height:16px;color:#0a9a85;transform:scaleX(0.9691);">None</div>
<div class="x" style="left:878.3px;top:526.0px;font-size:12px;line-height:16px;color:#0a9a85;transform:scaleX(0.9255);">HL</div>
<div class="x" style="left:871.5px;top:539.9px;font-size:12px;line-height:16px;color:#0a9a85;transform:scaleX(0.9691);">None</div>
<div class="x" style="left:965.9px;top:503.4px;font-size:12px;line-height:16px;color:#0a9a85;transform:scaleX(0.9255);">HL</div>
<div class="x" style="left:959.1px;top:517.3px;font-size:12px;line-height:16px;color:#0a9a85;transform:scaleX(0.9691);">None</div>
<div class="x" style="left:1435.1px;top:609.9px;font-size:12px;line-height:16px;color:#0a9a85;transform:scaleX(0.9132);">LL</div>
<div class="x" style="left:1427.3px;top:623.8px;font-size:12px;line-height:16px;color:#0a9a85;transform:scaleX(0.9691);">None</div>
<div class="x" style="left:1765.0px;top:51.7px;font-size:12px;line-height:16px;color:#b9bcc6;transform:scaleX(0.9795);-webkit-text-stroke:0.35px #b9bcc6">1.17400</div>
<div class="x" style="left:1765.0px;top:107.6px;font-size:12px;line-height:16px;color:#b9bcc6;transform:scaleX(0.9795);-webkit-text-stroke:0.35px #b9bcc6">1.17200</div>
<div class="x" style="left:1765.0px;top:163.5px;font-size:12px;line-height:16px;color:#b9bcc6;transform:scaleX(0.9795);-webkit-text-stroke:0.35px #b9bcc6">1.17000</div>
<div class="x" style="left:1765.0px;top:219.4px;font-size:12px;line-height:16px;color:#b9bcc6;transform:scaleX(0.9795);-webkit-text-stroke:0.35px #b9bcc6">1.16800</div>
<div class="x" style="left:1765.0px;top:275.3px;font-size:12px;line-height:16px;color:#b9bcc6;transform:scaleX(0.9795);-webkit-text-stroke:0.35px #b9bcc6">1.16600</div>
<div class="x" style="left:1765.0px;top:331.2px;font-size:12px;line-height:16px;color:#b9bcc6;transform:scaleX(0.9795);-webkit-text-stroke:0.35px #b9bcc6">1.16400</div>
<div class="x" style="left:1765.0px;top:387.1px;font-size:12px;line-height:16px;color:#b9bcc6;transform:scaleX(0.9795);-webkit-text-stroke:0.35px #b9bcc6">1.16200</div>
<div class="x" style="left:1765.0px;top:443.0px;font-size:12px;line-height:16px;color:#b9bcc6;transform:scaleX(0.9795);-webkit-text-stroke:0.35px #b9bcc6">1.16000</div>
<div class="x" style="left:1765.0px;top:498.9px;font-size:12px;line-height:16px;color:#b9bcc6;transform:scaleX(0.9795);-webkit-text-stroke:0.35px #b9bcc6">1.15800</div>
<div class="x" style="left:1765.0px;top:554.8px;font-size:12px;line-height:16px;color:#b9bcc6;transform:scaleX(0.9795);-webkit-text-stroke:0.35px #b9bcc6">1.15600</div>
<div class="x" style="left:1765.0px;top:610.7px;font-size:12px;line-height:16px;color:#b9bcc6;transform:scaleX(0.9795);-webkit-text-stroke:0.35px #b9bcc6">1.15400</div>
<div class="x" style="left:1765.0px;top:666.6px;font-size:12px;line-height:16px;color:#b9bcc6;transform:scaleX(0.9795);-webkit-text-stroke:0.35px #b9bcc6">1.15200</div>
<div class="x" style="left:1765.0px;top:722.5px;font-size:12px;line-height:16px;color:#b9bcc6;transform:scaleX(0.9795);-webkit-text-stroke:0.35px #b9bcc6">1.15000</div>
<div class="x" style="left:1765.0px;top:778.4px;font-size:12px;line-height:16px;color:#b9bcc6;transform:scaleX(0.9795);-webkit-text-stroke:0.35px #b9bcc6">1.14800</div>
<div class="x" style="left:60.7px;top:798.5px;font-size:12px;line-height:16px;color:#b9bcc6;transform:scaleX(1.0180);-webkit-text-stroke:0.35px #b9bcc6">10</div>
<div class="x" style="left:153.7px;top:798.5px;font-size:12px;line-height:16px;color:#b9bcc6;transform:scaleX(1.0907);-webkit-text-stroke:0.35px #b9bcc6">11</div>
<div class="x" style="left:245.7px;top:798.5px;font-size:12px;line-height:16px;color:#b9bcc6;transform:scaleX(1.0180);-webkit-text-stroke:0.35px #b9bcc6">14</div>
<div class="x" style="left:337.7px;top:798.5px;font-size:12px;line-height:16px;color:#b9bcc6;transform:scaleX(1.0180);-webkit-text-stroke:0.35px #b9bcc6">15</div>
<div class="x" style="left:429.7px;top:798.5px;font-size:12px;line-height:16px;color:#b9bcc6;transform:scaleX(1.0180);-webkit-text-stroke:0.35px #b9bcc6">16</div>
<div class="x" style="left:521.7px;top:798.5px;font-size:12px;line-height:16px;color:#b9bcc6;transform:scaleX(1.0180);-webkit-text-stroke:0.35px #b9bcc6">17</div>
<div class="x" style="left:613.7px;top:798.5px;font-size:12px;line-height:16px;color:#b9bcc6;transform:scaleX(1.0180);-webkit-text-stroke:0.35px #b9bcc6">18</div>
<div class="x" style="left:705.7px;top:798.5px;font-size:12px;line-height:16px;color:#b9bcc6;transform:scaleX(1.0180);-webkit-text-stroke:0.35px #b9bcc6">21</div>
<div class="x" style="left:797.7px;top:798.5px;font-size:12px;line-height:16px;color:#b9bcc6;transform:scaleX(1.0180);-webkit-text-stroke:0.35px #b9bcc6">22</div>
<div class="x" style="left:890.7px;top:798.5px;font-size:12px;line-height:16px;color:#b9bcc6;transform:scaleX(1.0180);-webkit-text-stroke:0.35px #b9bcc6">23</div>
<div class="x" style="left:982.7px;top:798.5px;font-size:12px;line-height:16px;color:#b9bcc6;transform:scaleX(1.0180);-webkit-text-stroke:0.35px #b9bcc6">24</div>
<div class="x" style="left:1074.7px;top:798.5px;font-size:12px;line-height:16px;color:#b9bcc6;transform:scaleX(1.0180);-webkit-text-stroke:0.35px #b9bcc6">25</div>
<div class="x" style="left:1166.7px;top:798.5px;font-size:12px;line-height:16px;color:#b9bcc6;transform:scaleX(1.0180);-webkit-text-stroke:0.35px #b9bcc6">28</div>
<div class="x" style="left:1258.7px;top:798.5px;font-size:12px;line-height:16px;color:#b9bcc6;transform:scaleX(1.0180);-webkit-text-stroke:0.35px #b9bcc6">29</div>
<div class="x" style="left:1350.7px;top:798.5px;font-size:12px;line-height:16px;color:#b9bcc6;transform:scaleX(1.0180);-webkit-text-stroke:0.35px #b9bcc6">30</div>
<div class="x" style="left:1442.7px;top:798.5px;font-size:12px;line-height:16px;color:#b9bcc6;transform:scaleX(1.0180);-webkit-text-stroke:0.35px #b9bcc6">31</div>
<div class="x" style="left:1529.0px;top:798.5px;font-size:12px;line-height:16px;color:#c9ccd4;transform:scaleX(1.0127);font-weight:700">11月</div>
<div class="x" style="left:1626.8px;top:798.5px;font-size:12px;line-height:16px;color:#b9bcc6;transform:scaleX(1.0916);-webkit-text-stroke:0.35px #b9bcc6">4</div>
<div class="x" style="left:1718.8px;top:798.5px;font-size:12px;line-height:16px;color:#b9bcc6;transform:scaleX(1.0916);-webkit-text-stroke:0.35px #b9bcc6">5</div>
<div class="x" style="left:1763.7px;top:7.5px;font-size:12.4px;line-height:16.4px;color:#f0f2f6;transform:scaleX(0.8368);">USD</div>
<div class="x" style="left:22.6px;top:34.6px;font-size:12.6px;line-height:16.6px;color:#fff;transform:scaleX(1.0225);font-weight:700">1.1519</div>
<div class="x" style="left:61.4px;top:34.5px;font-size:10.4px;line-height:14.4px;color:#fff;transform:scaleX(1.0724);font-weight:700">0</div>
<div class="x" style="left:33.4px;top:49.7px;font-size:11.8px;line-height:15.8px;color:#fff;transform:scaleX(0.9318);font-weight:500">売り</div>
<div class="x" style="left:141.6px;top:34.6px;font-size:12.6px;line-height:16.6px;color:#fff;transform:scaleX(1.0225);font-weight:700">1.1519</div>
<div class="x" style="left:180.4px;top:34.5px;font-size:10.4px;line-height:14.4px;color:#fff;transform:scaleX(1.0724);font-weight:700">0</div>
<div class="x" style="left:152.4px;top:49.7px;font-size:11.8px;line-height:15.8px;color:#fff;transform:scaleX(0.9318);font-weight:500">買い</div>
<div class="x" style="left:85.8px;top:42.9px;font-size:10.3px;line-height:14.3px;color:#d1d4dc;transform:scaleX(0.9776);font-weight:700">0.00000</div>
<div class="x" style="left:31.0px;top:76.8px;font-size:12px;line-height:16px;color:#d1d4dc;transform:scaleX(1.0019);">5</div>
<div class="tag" style="top:603px;background:#ffeb3b"></div>
<div class="tag" style="top:669px;background:#f23645"></div>
<div class="tag" style="top:669px;left:1705px;width:51px;background:#f23645;border-radius:2px 0 0 2px"></div>
<div class="x" style="left:1765.0px;top:463.6px;font-size:12px;line-height:16px;color:#fff;transform:scaleX(0.9795);font-weight:700">1.15926</div>
<div class="x" style="left:1765.0px;top:532.6px;font-size:12px;line-height:16px;color:#fff;transform:scaleX(0.9795);font-weight:700">1.15680</div>
<div class="x" style="left:1765.0px;top:603.6px;font-size:12px;line-height:16px;color:#131722;transform:scaleX(0.9795);">1.15427</div>
<div class="x" style="left:1765.0px;top:669.6px;font-size:12px;line-height:16px;color:#fff;transform:scaleX(0.9795);font-weight:700">1.15190</div>
<div class="x" style="left:1709.5px;top:669.6px;font-size:12px;line-height:16px;color:#fff;transform:scaleX(0.8585);font-weight:700">EURUSD</div>
</body></html>
